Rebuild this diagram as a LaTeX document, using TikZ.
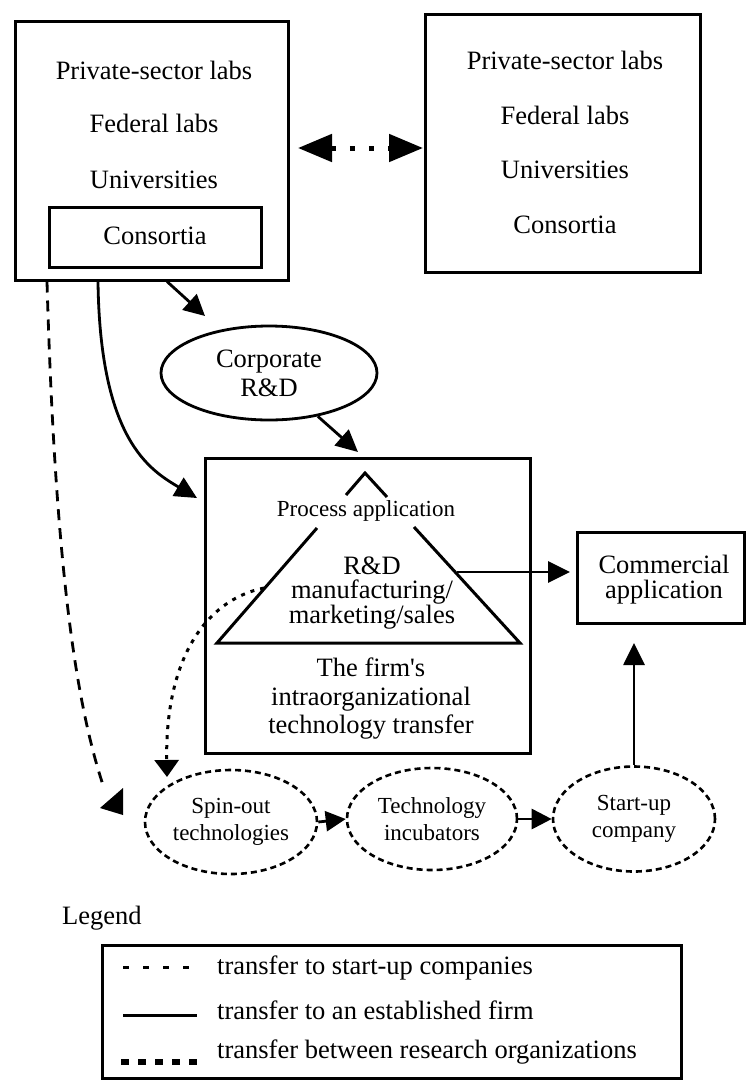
\documentclass[tikz,border=0pt]{standalone}
\usepackage{fontspec}
\setmainfont{Liberation Serif}
\usetikzlibrary{arrows.meta,shapes.geometric}
\begin{document}
\begin{tikzpicture}[x=1pt,y=-1pt,
  box/.style={draw,rectangle,line width=3pt,inner sep=0pt},
  txt/.style={font=\fontsize{26.5}{29}\selectfont,align=center,inner sep=0pt},
  smalltxt/.style={font=\fontsize{23}{27}\selectfont,align=center,inner sep=0pt},
  stage/.style={draw,ellipse,line width=2.6pt,dash pattern=on 6pt off 4pt,inner sep=0pt,
                font=\fontsize{23}{27}\selectfont,align=center},
  solidarr/.style={line width=2.8pt,-{Triangle[length=22pt,width=21pt]}},
  startdash/.style={line width=3pt,dash pattern=on 4pt off 6pt},
  longdash/.style={line width=2.8pt,dash pattern=on 11pt off 8pt},
  resdots/.style={line width=5pt,dash pattern=on 5pt off 14pt}
]
\useasboundingbox (0,0) rectangle (747,1085);

% research organisations, left
\node[box,minimum width=273pt,minimum height=259pt] (left) at (151.5,150.5) {};
\node[txt] (l1) at (154,70) {Private-sector labs};
\node[txt] (l2) at (154,123) {Federal labs};
\node[txt] (l3) at (154,180) {Universities};
\node[box,minimum width=212pt,minimum height=60pt] (lcons) at (155,237) {};
\node[txt] (l4) at (155,236) {Consortia};

% research organisations, right
\node[box,minimum width=275pt,minimum height=258pt] (right) at (562.5,143) {};
\node[txt] (r1) at (565,60) {Private-sector labs};
\node[txt] (r2) at (565,115) {Federal labs};
\node[txt] (r3) at (565,170) {Universities};
\node[txt] (r4) at (565,225) {Consortia};

% exchange between research organisations
\coordinate (exl) at (298,148);
\coordinate (exr) at (423,148);
\draw[resdots,{Triangle[length=34pt,width=27pt]}-{Triangle[length=34pt,width=27pt]}] (exl) -- (exr);

% corporate R&D
\node[draw,ellipse,line width=2.8pt,minimum width=216pt,minimum height=94pt,inner sep=0pt,
      font=\fontsize{26.5}{29}\selectfont,align=center] (corp) at (269,373) {Corporate\\R\&D};

% the firm
\node[box,minimum width=325pt,minimum height=295pt] (firm) at (367.5,605.5) {};
\draw[line width=3pt] (346,495) -- (365,473) -- (387,497);
\draw[line width=3pt] (317,528) -- (217,643) -- (520,643) -- (414,527);
\node[smalltxt] (proc) at (366,511) {Process application};
\node[font=\fontsize{26.5}{24.5}\selectfont,align=center,inner sep=0pt] (rd) at (372,593)
  {R\&D\\manufacturing/\\marketing/sales};
\node[font=\fontsize{26.5}{28.5}\selectfont,align=center,inner sep=0pt] (intra) at (371,699)
  {The firm\textquotesingle s\\intraorganizational\\technology transfer};

% commercial application
\node[box,minimum width=167pt,minimum height=91pt] (comm) at (660.5,577.5) {};
\node[font=\fontsize{26.5}{25}\selectfont,align=center,inner sep=0pt] (commtxt) at (664,580)
  {Commercial\\application};

% start-up path
\node[stage,minimum width=172pt,minimum height=104pt] (spin) at (231,822) {Spin-out\\technologies};
\node[stage,minimum width=170pt,minimum height=102pt] (incub) at (432,819) {Technology\\incubators};
\node[stage,minimum width=162pt,minimum height=105pt] (startup) at (634,819) {Start-up\\company};

% connectors
\coordinate (corptip) at (205,316);
\draw[line width=2.8pt,-{Triangle[length=21pt,width=21pt]}] (left.south -| 167,0) -- (corptip);

\coordinate (firmtop) at (358,452);
\draw[solidarr] (corp) -- (firmtop);

\coordinate (firmside) at (197,498);
\draw[solidarr] (left.south -| 98,0) .. controls (100,440) and (150,470) .. (firmside);

\coordinate (trirt) at (457,572);
\coordinate (commin) at (570,572);
\draw[solidarr] (trirt) -- (commin);

\coordinate (commbot) at (634,643);
\draw[solidarr] (startup.north) -- (commbot);

\draw[line width=2.8pt,-{Triangle[length=20pt,width=20pt]}] (spin.east) -- (incub.west);
\draw[line width=2.8pt,-{Triangle[length=20pt,width=20pt]}] (incub.west -| incub.east) -- (startup.west);

\coordinate (trileft) at (264,588);
\coordinate (spintip) at (167,777);
\draw[startdash,-{Triangle[length=17pt,width=24pt]}] (trileft) .. controls (205,600) and (165,660) .. (spintip);

\coordinate (dashend) at (103,785);
\draw[longdash] (left.south -| 47,0) .. controls (55,560) and (75,700) .. (dashend);
\fill (100,808) -- (123,788) -- (123,815) -- cycle;

% legend
\node[txt,anchor=west] (legend) at (62,918) {Legend};
\node[box,minimum width=579pt,minimum height=133pt] (legbox) at (391.5,1011.5) {};
\coordinate (s1a) at (123,967); \coordinate (s1b) at (197,967);
\coordinate (s2a) at (123,1015); \coordinate (s2b) at (197,1015);
\coordinate (s3a) at (121,1062); \coordinate (s3b) at (199,1062);
\draw[line width=3pt,dash pattern=on 6pt off 14pt] (s1a) -- (s1b);
\draw[line width=3pt] (s2a) -- (s2b);
\draw[line width=6pt,dash pattern=on 8pt off 9pt] (s3a) -- (s3b);
\node[txt,anchor=west] (t1) at (217,968) {transfer to start-up companies};
\node[txt,anchor=west] (t2) at (217,1010) {transfer to an established firm};
\node[txt,anchor=west] (t3) at (217,1052) {transfer between research organizations};
\end{tikzpicture}
\end{document}
